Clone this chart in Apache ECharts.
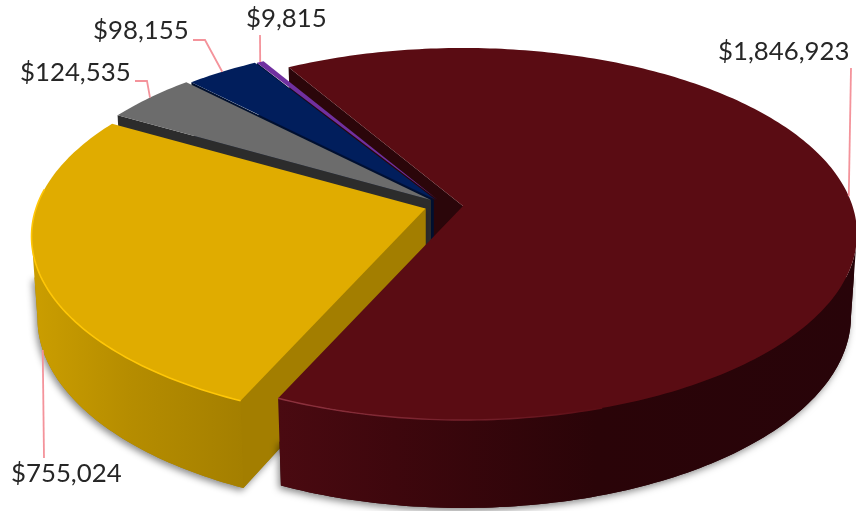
<!DOCTYPE html>
<html>
<head>
<meta charset="utf-8">
<style>html,body{margin:0;padding:0;background:#fff}#chart{width:856px;height:511px}</style>
<script src="https://cdn.jsdelivr.net/npm/echarts@6/dist/echarts.min.js"></script>
</head>
<body>
<div id="chart"></div>
<script>
// Slice amounts, clockwise from the large upper-right slice
const sliceValues = [1846923, 755024, 124535, 98155, 9815];
const sliceTop = ['#5a0c13', '#e0ac00', '#6c6c6c', '#011e5c', '#7030a0'];
const sliceFace = ['#2b060a', '#a37e00', '#2c2c2c', '#00102f', '#01113a'];
const firstAngle = -30.4;

// Perspective of the disc: P is foreshortening, top and bottom planes differ slightly
const P = 0.1505;
const topPlane = { r: 389.5, s: 181.8 };
const bottomPlane = { r: 383.6, s: 187.7 };
const THICKNESS = 81;

// Angles at which the rim turns out of view; the outer wall only shows between them
const silhouetteFrom = Math.acos(-P) * 180 / Math.PI;
const silhouetteTo = 360 - silhouetteFrom;

// Apex of every slice on the upper plane, and the x where its cut face meets the hub
const apexes = [[463, 206], [425.5, 208.5], [431, 200], [436, 200], [438, 200]];
const hubX = [463, 425.5, 431, 433.5, 433.5];

// Stacking of the parts so that nearer surfaces hide farther ones
const layers = [
  { face: 1, shadow: 11, wall: 12, top: 13 },
  { face: 8.5, shadow: 8, wall: 9, top: 10 },
  { face: 6, top: 7 },
  { face: 4, top: 5 },
  { face: 2, top: 3 }
];

// Label placement: text anchor, elbow of the leader, and which plane the leader lands on
const labelLayout = [
  { x: 718, y: 52, leader: [[851, 68]], plane: 'top' },
  { x: 11, y: 474, leader: [[44, 458]], plane: 'bottom' },
  { x: 20, y: 73, leader: [[135, 81], [147, 81]], plane: 'top' },
  { x: 93, y: 31, leader: [[193, 40], [205, 40]], plane: 'top' },
  { x: 246, y: 19, leader: [[260, 35]], plane: 'top' }
];

const total = sliceValues.reduce((a, b) => a + b, 0);
const money = v => '$' + v.toLocaleString('en-US');

function project(apex, plane, deg, oy) {
  const t = deg * Math.PI / 180;
  const u = Math.sin(t), v = Math.cos(t), w = 1 + P * v;
  return [apex[0] + plane.r * u / w, apex[1] + (oy || 0) - plane.s * v / w];
}
const onTop = (i, deg) => project(apexes[i], topPlane, deg);
const onBottom = (i, deg) => project(apexes[i], bottomPlane, deg, THICKNESS);
const halfway = (a, b) => [(a[0] + b[0]) / 2, (a[1] + b[1]) / 2];

function arc(fn, i, a0, a1) {
  const n = Math.max(2, Math.ceil(Math.abs(a1 - a0)));
  const pts = [];
  for (let k = 0; k <= n; k++) pts.push(fn(i, a0 + (a1 - a0) * k / n));
  return pts;
}
const ramp = stops => new echarts.graphic.LinearGradient(0, 0, 1, 0,
  stops.map(s => ({ offset: s[0], color: s[1] })));

const wallFill = [
  ramp([[0, '#4a0a11'], [0.2, '#3e070d'], [0.55, '#2a0408'], [1, '#280409']]),
  ramp([[0, '#cb9e00'], [0.45, '#b68d00'], [1, '#a47f00']])
];
const dropShadow = {
  shadowBlur: 7, shadowColor: 'rgba(0,0,0,0.45)', shadowOffsetX: -2, shadowOffsetY: 3
};

function renderSlice(params, api) {
  const i = params.dataIndex;
  const value = api.value(0);
  let before = 0;
  for (let k = 0; k < i; k++) before += sliceValues[k];
  const a0 = firstAngle + before / total * 360;
  const a1 = a0 + value / total * 360;
  const mid = (a0 + a1) / 2;
  const layer = layers[i];
  const children = [];
  const hubHigh = [hubX[i], apexes[i][1]];
  const hubLow = [hubX[i], apexes[i][1] + THICKNESS];

  // Cut face along the leading edge
  children.push({
    type: 'polygon', z2: layer.face,
    shape: { points: [hubHigh, onTop(i, a0), onBottom(i, a0), hubLow] },
    style: { fill: sliceFace[i] }
  });
  // Outer wall on the near side of the disc, with its cast shadow underneath
  const wa = Math.max(a0, silhouetteFrom), wb = Math.min(a1, silhouetteTo);
  if (wb > wa) {
    const rimTop = arc(onTop, i, wa, wb);
    const rimLow = arc(onBottom, i, wa, wb);
    const waist = a => halfway(onTop(i, a), onBottom(i, a));
    const castPts = i === 1
      ? rimLow.slice().reverse().concat([hubLow, hubHigh, waist(wb)])
      : rimLow.slice().reverse().concat([waist(wa), waist(wb)]);
    children.push({
      type: 'polygon', z2: layer.shadow,
      shape: { points: castPts },
      style: Object.assign({ fill: sliceFace[i] }, dropShadow)
    });
    children.push({
      type: 'polygon', z2: layer.wall,
      shape: { points: rimTop.concat(rimLow.slice().reverse()) },
      style: { fill: wallFill[i] }
    });
  }
  // Upper surface
  children.push({
    type: 'polygon', z2: layer.top,
    shape: { points: [apexes[i]].concat(arc(onTop, i, a0, a1)) },
    style: { fill: sliceTop[i] }
  });
  // Bevel highlight along the front rim
  if (i === 0) {
    children.push({
      type: 'polyline', z2: layer.top + 0.5,
      shape: { points: arc(onTop, i, a1, a1 - 42) },
      style: {
        fill: 'none', lineWidth: 1.4,
        stroke: ramp([[0, '#8f3340'], [0.7, '#6f1c26'], [1, '#5a0c13']])
      }
    });
  } else if (i === 1) {
    children.push({
      type: 'polyline', z2: layer.top + 0.5,
      shape: { points: arc(onTop, i, a0, a0 + 72) },
      style: { fill: 'none', stroke: '#ffc707', lineWidth: 1.6 }
    });
  }
  // Leader from the label to the slice's mid angle
  const lay = labelLayout[i];
  const landing = lay.plane === 'top' ? onTop(i, mid) : onBottom(i, mid);
  children.push({
    type: 'polyline', z2: 20,
    shape: { points: lay.leader.concat([landing]) },
    style: { fill: 'none', stroke: '#f4939b', lineWidth: 1.8 }
  });
  children.push({
    type: 'text', z2: 21,
    style: {
      text: money(value), x: lay.x, y: lay.y,
      fontFamily: 'Lato', fontSize: 25.8, fontWeight: 400, fill: '#262626',
      align: 'left', verticalAlign: 'middle'
    }
  });
  return { type: 'group', children };
}

const chart = echarts.init(document.getElementById('chart'), null, { renderer: 'canvas' });
chart.setOption({
  animation: false,
  backgroundColor: '#ffffff',
  series: [{
    type: 'custom',
    coordinateSystem: 'none',
    silent: true,
    clip: false,
    data: sliceValues.map(v => [v]),
    renderItem: renderSlice
  }]
});
</script>
</body>
</html>
